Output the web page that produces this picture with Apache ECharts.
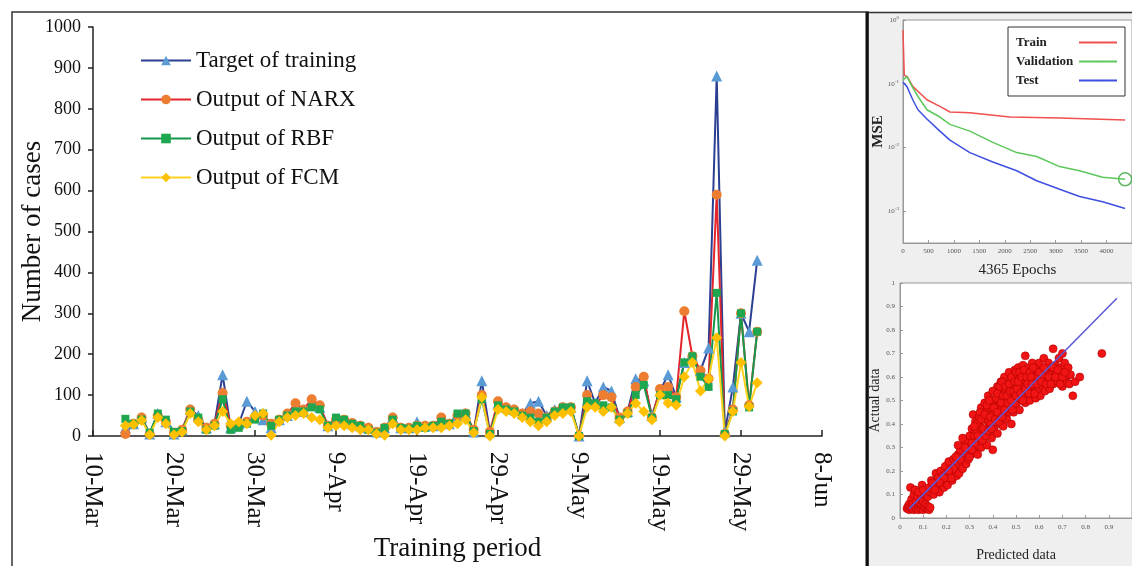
<!DOCTYPE html>
<html>
<head>
<meta charset="utf-8">
<script src="https://cdn.jsdelivr.net/npm/echarts@6/dist/echarts.min.js"></script>
<style>
  html, body { margin: 0; padding: 0; background: #fff; }
  #chart { width: 1132px; height: 566px; }
</style>
</head>
<body>
<div id="chart"></div>
<script>
// ---- Main panel: daily case counts (days counted from 10-Mar) ----
const tickLabels = ['10-Mar', '20-Mar', '30-Mar', '9-Apr', '19-Apr', '29-Apr', '9-May', '19-May', '29-May', '8-Jun'];
const firstDay = 4; // first sample is 14-Mar

const targetCases = [
  20, 30, 45, 5, 55, 35, 5, 15, 65, 50, 20, 30, 150,
  20, 30, 85, 60, 40, 20, 40, 50, 70, 60, 80, 70, 25, 40,
  35, 30, 25, 20, 10, 20, 45, 20, 20, 35, 25, 25, 40, 30,
  50, 55, 10, 135, 10, 80, 70, 65, 55, 80, 85, 50, 65, 70, 70, 0,
  135, 80, 120, 110, 45, 60, 140, 135, 50, 110, 150, 95,
  180, 195, 160, 215, 880, 10, 120, 300, 255, 430
];
const narxCases = [
  5, 30, 45, 5, 50, 35, 8, 15, 65, 40, 20, 30, 105,
  25, 30, 35, 45, 50, 30, 40, 55, 80, 65, 90, 75, 25, 40,
  40, 32, 25, 20, 10, 20, 45, 20, 20, 25, 25, 25, 45, 30,
  50, 55, 15, 100, 10, 85, 70, 65, 55, 60, 55, 45, 60, 70, 70, 0,
  100, 75, 100, 95, 45, 60, 120, 145, 45, 115, 120, 95,
  305, 195, 160, 140, 590, 5, 65, 300, 75, 255
];
const rbfCases = [
  42, 30, 40, 8, 55, 40, 10, 12, 60, 45, 15, 25, 90,
  15, 20, 30, 40, 55, 25, 40, 50, 60, 60, 70, 65, 25, 45,
  40, 30, 25, 15, 8, 20, 40, 20, 18, 25, 20, 25, 35, 30,
  55, 55, 12, 90, 5, 75, 65, 60, 50, 45, 35, 45, 60, 70, 70, 0,
  85, 80, 75, 70, 40, 55, 100, 125, 45, 100, 100, 90,
  180, 195, 145, 120, 350, 5, 60, 300, 70, 255
];
const fcmCases = [
  25, 28, 38, 3, 45, 30, 3, 10, 55, 35, 15, 25, 60,
  30, 35, 30, 50, 55, 2, 35, 45, 50, 55, 45, 40, 20, 25,
  25, 20, 15, 15, 5, 2, 30, 15, 15, 15, 20, 20, 20, 25,
  30, 40, 8, 95, 0, 65, 60, 55, 45, 35, 25, 35, 50, 55, 60, 0,
  70, 70, 60, 70, 35, 55, 80, 60, 40, 100, 80, 75,
  145, 180, 110, 140, 240, 0, 60, 180, 72, 130
];

// ---- Training performance: [epoch, MSE] ----
const trainMse = [[0, 0.69], [25, 0.135], [80, 0.13], [196, 0.09], [470, 0.056], [725, 0.044], [922, 0.036],
  [1314, 0.035], [2098, 0.030], [3078, 0.029], [4365, 0.027]];
const validationMse = [[0, 0.115], [78, 0.129], [196, 0.085], [294, 0.063], [470, 0.039], [725, 0.030], [922, 0.023],
  [1314, 0.018], [1765, 0.012], [2235, 0.0083], [2627, 0.0072], [3078, 0.0050], [3470, 0.0043], [3922, 0.0034], [4365, 0.00316]];
const testMse = [[0, 0.105], [78, 0.09], [196, 0.055], [294, 0.039], [470, 0.028], [725, 0.018], [922, 0.013],
  [1314, 0.0083], [1765, 0.0059], [2235, 0.0043], [2627, 0.0030], [3078, 0.0022], [3470, 0.0017], [3922, 0.0014], [4365, 0.0011]];
const bestValidation = [[4365, 0.00316]];
const goalMse = 0.00107;

// ---- Regression: [predicted, actual] ----
const regressionPts = [
  [0.03,0.04],[0.035,0.05],[0.04,0.035],[0.04,0.06],[0.045,0.045],[0.05,0.08],[0.05,0.04],[0.055,0.06],[0.06,0.035],[0.06,0.1],
  [0.065,0.05],[0.07,0.07],[0.07,0.04],[0.075,0.09],[0.08,0.05],[0.08,0.035],[0.085,0.065],[0.09,0.04],[0.09,0.08],[0.095,0.055],
  [0.1,0.035],[0.1,0.07],[0.105,0.045],[0.11,0.06],[0.11,0.1],[0.115,0.04],[0.12,0.05],[0.125,0.035],[0.13,0.045],[0.045,0.13],
  [0.065,0.12],[0.08,0.11],[0.095,0.14],[0.1,0.12],
  [0.12,0.09],[0.125,0.13],[0.13,0.11],[0.135,0.16],[0.14,0.12],[0.145,0.1],[0.15,0.15],[0.155,0.19],[0.16,0.13],[0.165,0.17],
  [0.17,0.11],[0.175,0.2],[0.18,0.15],[0.185,0.18],[0.19,0.13],[0.195,0.22],[0.2,0.16],[0.2,0.19],
  [0.205,0.14],[0.21,0.24],[0.215,0.18],[0.22,0.21],[0.225,0.16],[0.23,0.25],[0.235,0.2],[0.24,0.22],[0.245,0.18],[0.25,0.27],
  [0.25,0.23],[0.255,0.19],[0.26,0.29],[0.265,0.24],[0.27,0.21],[0.275,0.31],[0.28,0.26],[0.285,0.23],[0.29,0.33],[0.29,0.28],
  [0.295,0.25],[0.3,0.35],[0.3,0.3],
  [0.305,0.27],[0.31,0.38],[0.31,0.32],[0.315,0.44],[0.32,0.29],[0.32,0.35],[0.325,0.41],[0.33,0.31],[0.33,0.37],[0.335,0.27],
  [0.34,0.43],[0.34,0.34],[0.345,0.39],[0.35,0.3],[0.35,0.47],[0.355,0.36],[0.36,0.42],[0.36,0.33],[0.365,0.49],[0.37,0.38],
  [0.37,0.45],[0.375,0.31],[0.38,0.41],[0.38,0.52],[0.385,0.36],[0.39,0.47],[0.39,0.4],[0.395,0.34],[0.4,0.5],[0.4,0.44],[0.4,0.29],
  [0.405,0.38],[0.41,0.54],[0.41,0.47],[0.415,0.42],[0.42,0.36],[0.42,0.56],[0.425,0.5],[0.43,0.44],[0.43,0.4],[0.435,0.58],
  [0.44,0.53],[0.44,0.47],[0.445,0.39],[0.45,0.6],[0.45,0.55],[0.455,0.5],[0.46,0.44],[0.46,0.42],[0.465,0.57],[0.47,0.62],
  [0.47,0.52],[0.475,0.47],[0.48,0.55],[0.48,0.4],[0.485,0.59],[0.49,0.5],[0.49,0.45],[0.495,0.63],[0.5,0.56],[0.5,0.48],
  [0.505,0.6],[0.51,0.52],[0.51,0.64],[0.515,0.46],[0.52,0.57],[0.52,0.62],[0.525,0.5],[0.53,0.54],[0.53,0.65],[0.535,0.59],
  [0.54,0.69],[0.54,0.49],[0.545,0.56],[0.55,0.61],[0.55,0.52],[0.555,0.64],[0.56,0.58],[0.56,0.5],[0.565,0.55],[0.57,0.62],
  [0.57,0.66],[0.575,0.53],[0.58,0.59],[0.58,0.56],[0.585,0.51],[0.59,0.63],[0.59,0.6],[0.595,0.54],[0.6,0.58],[0.6,0.66],
  [0.605,0.52],[0.61,0.62],[0.615,0.56],[0.62,0.6],[0.62,0.68],[0.625,0.54],[0.63,0.63],[0.635,0.58],[0.64,0.66],[0.645,0.55],
  [0.65,0.61],[0.655,0.64],[0.66,0.72],[0.66,0.57],[0.665,0.6],[0.67,0.65],[0.675,0.62],[0.68,0.58],[0.685,0.68],[0.69,0.6],
  [0.695,0.64],[0.7,0.7],[0.7,0.56],[0.705,0.62],[0.71,0.66],[0.715,0.59],[0.72,0.575],[0.725,0.64],[0.73,0.57],[0.735,0.61],
  [0.745,0.52],[0.755,0.58],[0.775,0.6],[0.87,0.7],
  [0.33,0.4],[0.335,0.35],[0.345,0.45],[0.35,0.42],[0.355,0.33],[0.36,0.38],[0.365,0.44],[0.37,0.35],[0.375,0.48],[0.38,0.37],
  [0.385,0.5],[0.39,0.43],[0.395,0.38],[0.4,0.54],[0.405,0.47],[0.41,0.42],[0.415,0.51],[0.42,0.45],[0.42,0.53],[0.425,0.41],
  [0.43,0.56],[0.435,0.49],[0.44,0.43],[0.44,0.58],[0.445,0.52],[0.45,0.46],[0.455,0.56],[0.46,0.52],[0.465,0.49],[0.47,0.57],
  [0.475,0.54],[0.48,0.6],[0.48,0.5],[0.485,0.46],[0.49,0.54],[0.495,0.58],[0.5,0.62],[0.5,0.52],[0.505,0.55],[0.51,0.58],
  [0.515,0.62],[0.52,0.53],[0.525,0.6],[0.53,0.5],[0.535,0.63],[0.54,0.55],[0.545,0.6],[0.55,0.57],[0.555,0.53],[0.56,0.62],
  [0.565,0.6],[0.57,0.57],[0.575,0.64],[0.58,0.53],[0.59,0.57],[0.6,0.62],[0.61,0.58],[0.62,0.64],[0.63,0.57],[0.64,0.6],
  [0.65,0.57],[0.66,0.64],[0.67,0.6],[0.68,0.63],[0.69,0.57],[0.7,0.6],[0.71,0.62],[0.28,0.3],[0.26,0.25],[0.24,0.26],
  [0.23,0.21],[0.22,0.17],[0.21,0.2],[0.19,0.17],[0.17,0.15],[0.15,0.12],[0.14,0.15],[0.3,0.26],[0.31,0.29],[0.32,0.39],
  [0.27,0.34],[0.25,0.31]
];
const fitLine = [[0.04, 0.04], [0.935, 0.935]];

const serif = 'Liberation Serif, Times New Roman, serif';
const toDaily = arr => arr.map((v, i) => [firstDay + i, v]);

const chart = echarts.init(document.getElementById('chart'), null, { renderer: 'canvas' });

const smallTick = { fontSize: 7, color: '#555', fontFamily: serif };

const option = {
  animation: false,
  backgroundColor: '#fff',
  textStyle: { fontFamily: serif },
  graphic: [
    { type: 'rect', z: -100, shape: { x: 868, y: 13, width: 264, height: 553 }, style: { fill: '#efefef' } },
    { type: 'rect', shape: { x: 12, y: 12, width: 856, height: 580 }, style: { fill: 'none', stroke: '#333', lineWidth: 1.5 } },
    { type: 'line', shape: { x1: 866, y1: 12.5, x2: 1132, y2: 12.5 }, style: { stroke: '#333', lineWidth: 1.5 } },
    { type: 'line', shape: { x1: 867, y1: 12, x2: 867, y2: 566 }, style: { stroke: '#111', lineWidth: 3 } }
  ],
  legend: [
    {
      data: ['Target of training', 'Output of NARX', 'Output of RBF', 'Output of FCM'],
      orient: 'vertical', left: 135, top: 44,
      itemWidth: 50, itemHeight: 12, itemGap: 16,
      textStyle: { fontSize: 23, color: '#111', fontFamily: serif }
    },
    {
      data: ['Train', 'Validation', 'Test'],
      orient: 'vertical', left: 1008, top: 27, align: 'right',
      itemWidth: 38, itemHeight: 2, itemGap: 6,
      padding: [9, 7, 9, 8],
      backgroundColor: '#fff', borderColor: '#333', borderWidth: 1,
      formatter: name => '{t|' + name + '}',
      textStyle: {
        fontFamily: serif,
        rich: { t: { width: 58, align: 'left', fontSize: 13, fontWeight: 'bold', color: '#222', fontFamily: serif } }
      }
    }
  ],
  grid: [
    { left: 93, right: 310, top: 27, bottom: 130, outerBoundsMode: 'none' },
    { left: 903, right: 0, top: 20, bottom: 323, outerBoundsMode: 'none', show: true, backgroundColor: '#fff', borderColor: '#999', borderWidth: 1 },
    { left: 900, right: 0, top: 283, bottom: 48, outerBoundsMode: 'none', show: true, backgroundColor: '#fff', borderColor: '#999', borderWidth: 1 }
  ],
  xAxis: [
    {
      gridIndex: 0, type: 'value', min: 0, max: 90, interval: 10,
      name: 'Training period', nameLocation: 'middle', nameGap: 99, nameMoveOverlap: false,
      nameTextStyle: { fontSize: 27, color: '#111', fontFamily: serif },
      axisLine: { lineStyle: { color: '#222', width: 1.5 } },
      axisTick: { inside: true, length: 6, lineStyle: { color: '#222', width: 1.5 } },
      splitLine: { show: false },
      axisLabel: {
        rotate: -90, margin: 16, fontSize: 25, color: '#111', fontFamily: serif,
        showMaxLabel: true, showMinLabel: true,
        formatter: v => tickLabels[Math.round(v / 10)]
      }
    },
    {
      gridIndex: 1, type: 'value', min: 0, max: 4500, interval: 500,
      name: '4365 Epochs', nameLocation: 'middle', nameGap: 20, nameMoveOverlap: false,
      nameTextStyle: { fontSize: 15, color: '#222', fontFamily: serif },
      axisLine: { lineStyle: { color: '#999' } },
      axisTick: { inside: true, length: 3, lineStyle: { color: '#999' } },
      splitLine: { show: false },
      axisLabel: Object.assign({ margin: 5, showMaxLabel: false, formatter: v => String(v) }, smallTick)
    },
    {
      gridIndex: 2, type: 'value', min: 0, max: 1, interval: 0.1,
      name: 'Predicted data', nameLocation: 'middle', nameGap: 30, nameMoveOverlap: false,
      nameTextStyle: { fontSize: 14, color: '#222', fontFamily: serif },
      axisLine: { lineStyle: { color: '#999' } },
      axisTick: { inside: true, length: 3, lineStyle: { color: '#999' } },
      splitLine: { show: false },
      axisLabel: Object.assign({ margin: 6, showMaxLabel: false, formatter: v => v === 0 ? '0' : v.toFixed(1) }, smallTick)
    }
  ],
  yAxis: [
    {
      gridIndex: 0, type: 'value', min: 0, max: 1000, interval: 100,
      name: 'Number of cases', nameLocation: 'middle', nameGap: 47, nameMoveOverlap: false,
      nameTextStyle: { fontSize: 27, color: '#111', fontFamily: serif },
      axisLine: { show: true, lineStyle: { color: '#222', width: 1.5 } },
      axisTick: { show: true, length: 5, lineStyle: { color: '#222', width: 1.5 } },
      splitLine: { show: false },
      axisLabel: { margin: 12, fontSize: 18, color: '#111', fontFamily: serif, formatter: v => String(v) }
    },
    {
      gridIndex: 1, type: 'log', logBase: 10, min: 0.000316, max: 1,
      name: 'MSE', nameLocation: 'middle', nameGap: 17, nameMoveOverlap: false,
      nameTextStyle: { fontSize: 15, fontWeight: 'bold', color: '#222', fontFamily: serif },
      axisLine: { show: true, lineStyle: { color: '#999' } },
      axisTick: { show: true, inside: true, length: 3, lineStyle: { color: '#999' } },
      splitLine: { show: false },
      axisLabel: {
        margin: 4, showMinLabel: false, color: '#555',
        formatter: v => '{b|10}{e|' + Math.round(Math.log10(v)) + '}',
        rich: { b: { fontSize: 7, color: '#555' }, e: { fontSize: 5, color: '#555', verticalAlign: 'top', padding: [0, 0, 5, 0] } }
      }
    },
    {
      gridIndex: 2, type: 'value', min: 0, max: 1, interval: 0.1,
      name: 'Actual data', nameLocation: 'middle', nameGap: 18, nameMoveOverlap: false,
      nameTextStyle: { fontSize: 14, color: '#222', fontFamily: serif },
      axisLine: { show: true, lineStyle: { color: '#999' } },
      axisTick: { show: true, inside: true, length: 3, lineStyle: { color: '#999' } },
      splitLine: { show: false },
      axisLabel: Object.assign({ margin: 5, formatter: v => v === 0 ? '0' : (v === 1 ? '1' : v.toFixed(1)) }, smallTick)
    }
  ],
  series: [
    {
      name: 'Target of training', type: 'line', xAxisIndex: 0, yAxisIndex: 0,
      data: toDaily(targetCases), symbol: 'triangle', symbolSize: 11,
      lineStyle: { color: '#2B3F93', width: 2 }, itemStyle: { color: '#5B9BD5' }
    },
    {
      name: 'Output of NARX', type: 'line', xAxisIndex: 0, yAxisIndex: 0,
      data: toDaily(narxCases), symbol: 'circle', symbolSize: 10,
      lineStyle: { color: '#E3262B', width: 2 }, itemStyle: { color: '#ED7D31' }
    },
    {
      name: 'Output of RBF', type: 'line', xAxisIndex: 0, yAxisIndex: 0,
      data: toDaily(rbfCases), symbol: 'rect', symbolSize: 8,
      lineStyle: { color: '#16984A', width: 2 }, itemStyle: { color: '#1EA74F' }
    },
    {
      name: 'Output of FCM', type: 'line', xAxisIndex: 0, yAxisIndex: 0,
      data: toDaily(fcmCases), symbol: 'diamond', symbolSize: 11,
      lineStyle: { color: '#FFD21F', width: 2 }, itemStyle: { color: '#FFC000' }
    },
    {
      name: 'Train', type: 'line', xAxisIndex: 1, yAxisIndex: 1, data: trainMse,
      symbol: 'none', lineStyle: { color: '#F05050', width: 1.5 }, itemStyle: { color: '#F05050' }
    },
    {
      name: 'Validation', type: 'line', xAxisIndex: 1, yAxisIndex: 1, data: validationMse,
      symbol: 'none', lineStyle: { color: '#5CC85C', width: 1.5 }, itemStyle: { color: '#5CC85C' },
      markLine: {
        silent: true, symbol: 'none', label: { show: false },
        lineStyle: { color: '#aaa', type: 'dotted', width: 1 },
        data: [{ yAxis: bestValidation[0][1] }, { yAxis: goalMse }]
      }
    },
    {
      name: 'Test', type: 'line', xAxisIndex: 1, yAxisIndex: 1, data: testMse,
      symbol: 'none', lineStyle: { color: '#3F4FE0', width: 1.5 }, itemStyle: { color: '#3F4FE0' }
    },
    {
      name: 'Best', type: 'scatter', xAxisIndex: 1, yAxisIndex: 1, data: bestValidation,
      symbol: 'circle', symbolSize: 13,
      itemStyle: { color: 'rgba(0,0,0,0)', borderColor: '#3aa53a', borderWidth: 1.5 }
    },
    {
      name: 'Regression', type: 'scatter', xAxisIndex: 2, yAxisIndex: 2, data: regressionPts,
      symbol: 'circle', symbolSize: 8,
      itemStyle: { color: '#F01414', borderColor: '#B00000', borderWidth: 0.6, opacity: 1 }
    },
    {
      name: 'Fit', type: 'line', xAxisIndex: 2, yAxisIndex: 2, data: fitLine,
      symbol: 'none', lineStyle: { color: '#5A5AD8', width: 1.5 }
    }
  ]
};

chart.setOption(option);
</script>
</body>
</html>
